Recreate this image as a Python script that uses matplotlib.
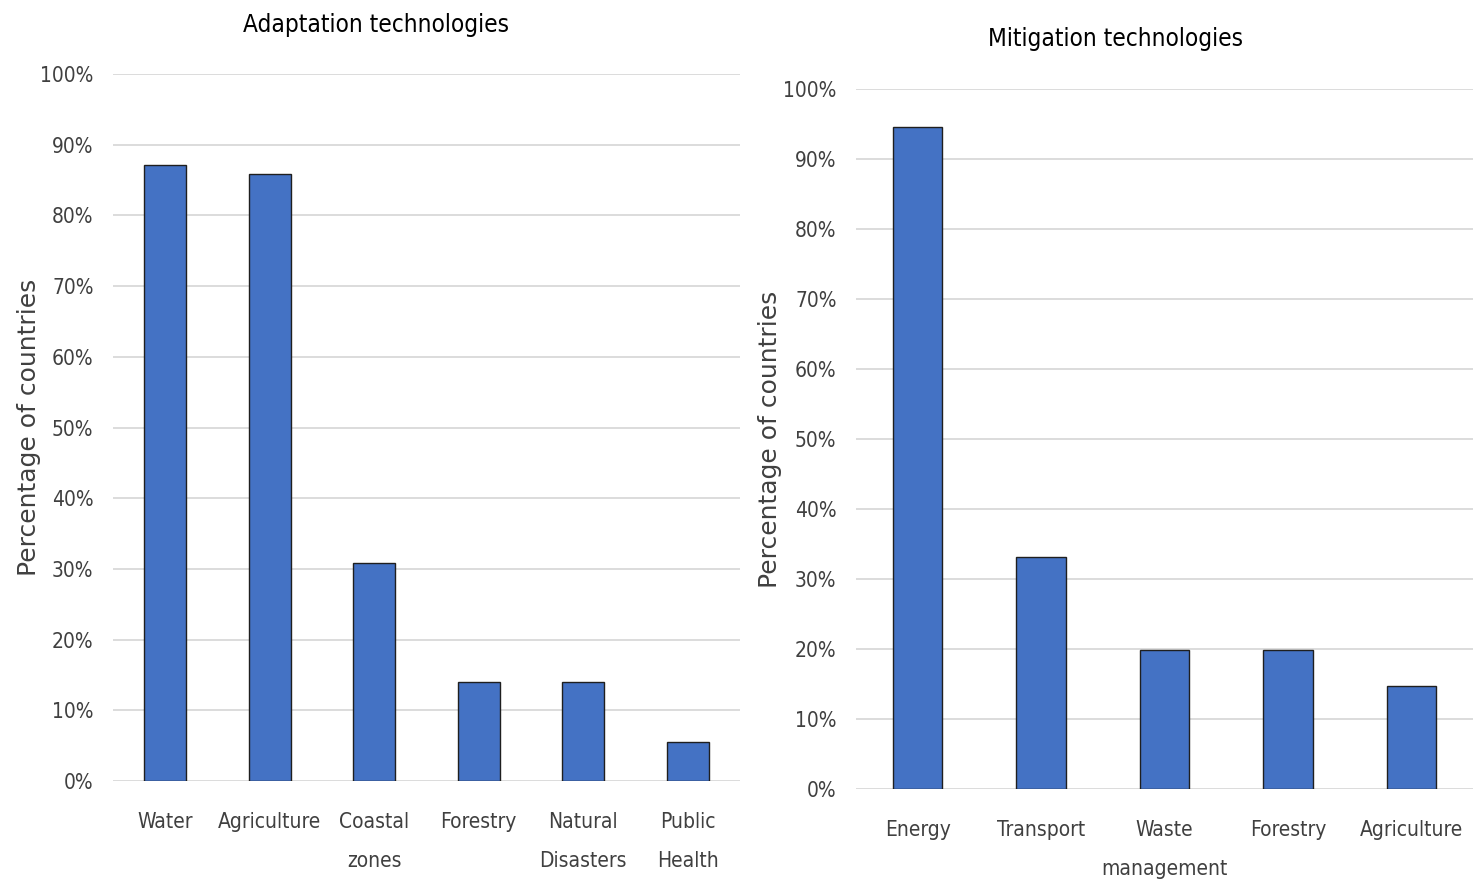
import matplotlib.pyplot as plt
from matplotlib.ticker import PercentFormatter

adapt_labels = ['Water', 'Agriculture', 'Coastal\nzones', 'Forestry', 'Natural\nDisasters', 'Public\nHealth']
adapt_values = [87.1, 85.9, 30.8, 14.0, 14.0, 5.5]

mitig_labels = ['Energy', 'Transport', 'Waste\nmanagement', 'Forestry', 'Agriculture']
mitig_values = [94.6, 33.1, 19.9, 19.9, 14.7]

yticks = list(range(0, 101, 10))

BAR_COLOR = '#4472C4'
TEXT_COLOR = '#404040'
GRID_COLOR = '#d9d9d9'
NARROW = dict(family='DejaVu Sans', stretch='condensed')


def draw_panel(ax, labels, values, title, title_pad, ylab_x):
    x = range(len(labels))
    ax.bar(x, values, width=0.4, color=BAR_COLOR, edgecolor='#1f1f1f', linewidth=1.0, zorder=3)
    ax.set_xlim(-0.5, len(labels) - 0.5)
    ax.set_ylim(0, 100)
    ax.set_yticks(yticks)
    ax.yaxis.set_major_formatter(PercentFormatter(decimals=0))
    ax.set_xticks(list(x))
    ax.set_xticklabels(labels, fontsize=15, color=TEXT_COLOR, linespacing=2.2, **NARROW)
    for t in ax.get_yticklabels():
        t.set_family(NARROW['family'])
        t.set_stretch(NARROW['stretch'])
        t.set_fontsize(15)
        t.set_color(TEXT_COLOR)
    ax.tick_params(axis='both', length=0)
    ax.tick_params(axis='x', pad=22)
    ax.tick_params(axis='y', pad=14)
    ax.grid(axis='y', color=GRID_COLOR, linewidth=1.3, zorder=0)
    for s in ax.spines.values():
        s.set_visible(False)
    ax.set_ylabel('Percentage of countries', fontsize=18, color=TEXT_COLOR)
    ax.yaxis.set_label_coords(ylab_x, 0.5)
    ax.set_title(title, fontsize=17.5, color='black', pad=title_pad, x=0.42, **NARROW)


fig = plt.figure(figsize=(14.73, 8.84), dpi=100)
ax1 = fig.add_axes([0.0767, 0.1165, 0.4257, 0.7998])
ax2 = fig.add_axes([0.5811, 0.1075, 0.4189, 0.7919])

draw_panel(ax1, adapt_labels, adapt_values, 'Adaptation technologies', 30, -0.115)
draw_panel(ax2, mitig_labels, mitig_values, 'Mitigation technologies', 31, -0.12)

fig.savefig('out.png', dpi=100)
plt.close(fig)
